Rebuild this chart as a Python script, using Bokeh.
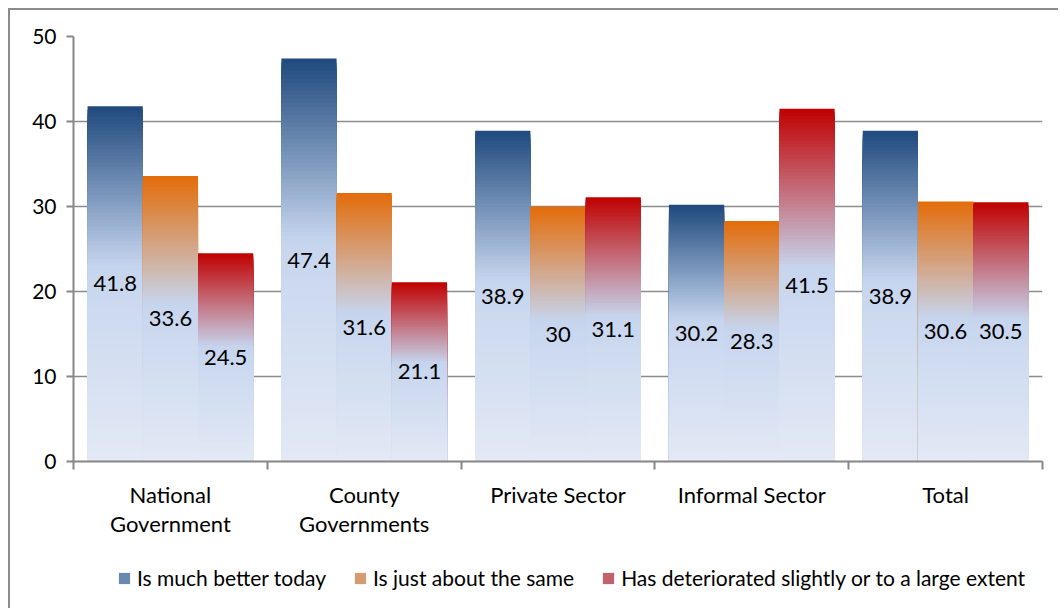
from bokeh.plotting import figure
from bokeh.layouts import column
from bokeh.models import (Range1d, FixedTicker, Legend, LegendItem, CustomJSTickFormatter,
                          ColumnDataSource)
from bokeh.core.properties import value
from bokeh.embed import file_html
from bokeh.resources import INLINE

# ---------------- data ----------------
categories = ["National\nGovernment", "County\nGovernments", "Private Sector",
              "Informal Sector", "Total"]
series_names = ["Is much better today", "Is just about the same",
                "Has deteriorated slightly or to a large extent"]
much_better = [41.8, 47.4, 38.9, 30.2, 38.9]
about_same = [33.6, 31.6, 30.0, 28.3, 30.6]
deteriorated = [24.5, 21.1, 31.1, 41.5, 30.5]
y_ticks = [0, 10, 20, 30, 40, 50]

# ---------------- style ----------------
FONT = "Lato"
top_colors = [(31, 73, 125), (227, 108, 9), (192, 0, 0)]
mid_rgb = (198, 213, 238)
bottom_rgb = (227, 233, 245)
SPLIT = 0.55
N_SLICES = 100
BAR_W = 0.285
offsets = [-BAR_W, 0.0, BAR_W]
GRID = "#8c8c8c"
AXIS = "#868686"
W = 1048


def mix(a, b, t):
    return tuple(int(round(a[i] + (b[i] - a[i]) * t)) for i in range(3))


def hexc(c):
    return "#%02x%02x%02x" % c


def grad_color(top, t):
    # t: 0 at bar bottom, 1 at bar top
    if t >= SPLIT:
        return hexc(mix(mid_rgb, top, (t - SPLIT) / (1 - SPLIT)))
    return hexc(mix(bottom_rgb, mid_rgb, t / SPLIT))


p = figure(width=W, height=550, x_range=Range1d(0, 5), y_range=Range1d(0, 50),
           output_backend="svg", toolbar_location=None,
           min_border_left=63, min_border_right=16, min_border_top=26,
           min_border_bottom=99)
p.outline_line_color = None
p.background_fill_color = "white"
p.border_fill_color = "white"

# small companion figure that only hosts the legend (below the chart)
leg_fig = figure(width=W, height=48, x_range=Range1d(0, 5), y_range=Range1d(100, 101),
                 output_backend="svg", toolbar_location=None,
                 min_border_left=0, min_border_right=0, min_border_top=0, min_border_bottom=0,
                 x_axis_location=None, y_axis_location=None)
leg_fig.outline_line_color = None
leg_fig.grid.visible = False
leg_fig.background_fill_color = "white"
leg_fig.border_fill_color = "white"

series = [much_better, about_same, deteriorated]
legend_items = []
LEGEND_SLICE = int(N_SLICES * 0.2)  # slice row used for the legend swatch colour
for s, vals in enumerate(series):
    lefts, rights, tops, bottoms, colors = [], [], [], [], []
    for k in range(N_SLICES, 0, -1):
        t = k / N_SLICES
        col = grad_color(top_colors[s], t - 0.5 / N_SLICES)
        for i, v in enumerate(vals):
            c = i + 0.5 + offsets[s]
            lefts.append(c - BAR_W / 2)
            rights.append(c + BAR_W / 2)
            tops.append(v * t)
            bottoms.append(0)
            colors.append(col)
    src = ColumnDataSource(dict(left=lefts, right=rights, top=tops, bottom=bottoms, color=colors))
    p.quad(left="left", right="right", top="top", bottom="bottom", fill_color="color",
           line_color=None, source=src)
    lr = leg_fig.quad(left="left", right="right", top="top", bottom="bottom",
                      fill_color="color", line_color=None, source=src)
    legend_items.append(LegendItem(label=series_names[s], renderers=[lr],
                                   index=LEGEND_SLICE * len(vals)))

    xs = [i + 0.5 + offsets[s] for i in range(len(vals))]
    ys = [v / 2 for v in vals]
    labels = [f"{v:g}" for v in vals]
    p.text(x=xs, y=ys, text=labels, text_align="center", text_baseline="middle",
           text_font=value(FONT), text_font_size="22px", text_color="black")

# y axis
p.yaxis.ticker = FixedTicker(ticks=y_ticks)
p.yaxis.axis_line_color = AXIS
p.yaxis.axis_line_width = 2
p.yaxis.major_tick_line_color = AXIS
p.yaxis.major_tick_line_width = 2
p.yaxis.major_tick_out = 7
p.yaxis.major_tick_in = 0
p.yaxis.minor_tick_line_color = None
p.yaxis.major_label_text_font = FONT
p.yaxis.major_label_text_font_size = "21px"
p.yaxis.major_label_text_color = "black"
p.yaxis.major_label_standoff = 10

# x axis
p.xaxis.ticker = FixedTicker(ticks=[i + 0.5 for i in range(len(categories))],
                             minor_ticks=list(range(len(categories) + 1)))
p.xaxis.formatter = CustomJSTickFormatter(args=dict(cats=categories),
                                          code="return cats[Math.floor(tick)];")
p.xaxis.axis_line_color = AXIS
p.xaxis.axis_line_width = 2
p.xaxis.major_tick_line_color = None
p.xaxis.major_tick_out = 0
p.xaxis.major_tick_in = 0
p.xaxis.minor_tick_line_color = AXIS
p.xaxis.minor_tick_line_width = 2
p.xaxis.minor_tick_out = 8
p.xaxis.minor_tick_in = 0
p.xaxis.major_label_text_font = FONT
p.xaxis.major_label_text_font_size = "22px"
p.xaxis.major_label_text_color = "black"
p.xaxis.major_label_text_line_height = 1.1
p.xaxis.major_label_standoff = 11

p.xgrid.grid_line_color = None
p.ygrid.ticker = FixedTicker(ticks=y_ticks)
p.ygrid.grid_line_color = GRID
p.ygrid.grid_line_width = 1.5

legend = Legend(items=legend_items, orientation="horizontal", location=(44, 18),
                glyph_width=14, glyph_height=14, label_standoff=6, spacing=27,
                label_text_font=FONT, label_text_font_size="21px",
                label_text_color="black", border_line_color=None,
                background_fill_alpha=0, padding=0, margin=0)
leg_fig.add_layout(legend, "center")

layout = column(p, leg_fig, spacing=0,
                styles={"margin-left": "8px", "margin-top": "8px",
                        "border-left": "2px solid #8c8c8c",
                        "border-top": "2px solid #8c8c8c"})

open("out.html", "w").write(file_html(layout, INLINE))
